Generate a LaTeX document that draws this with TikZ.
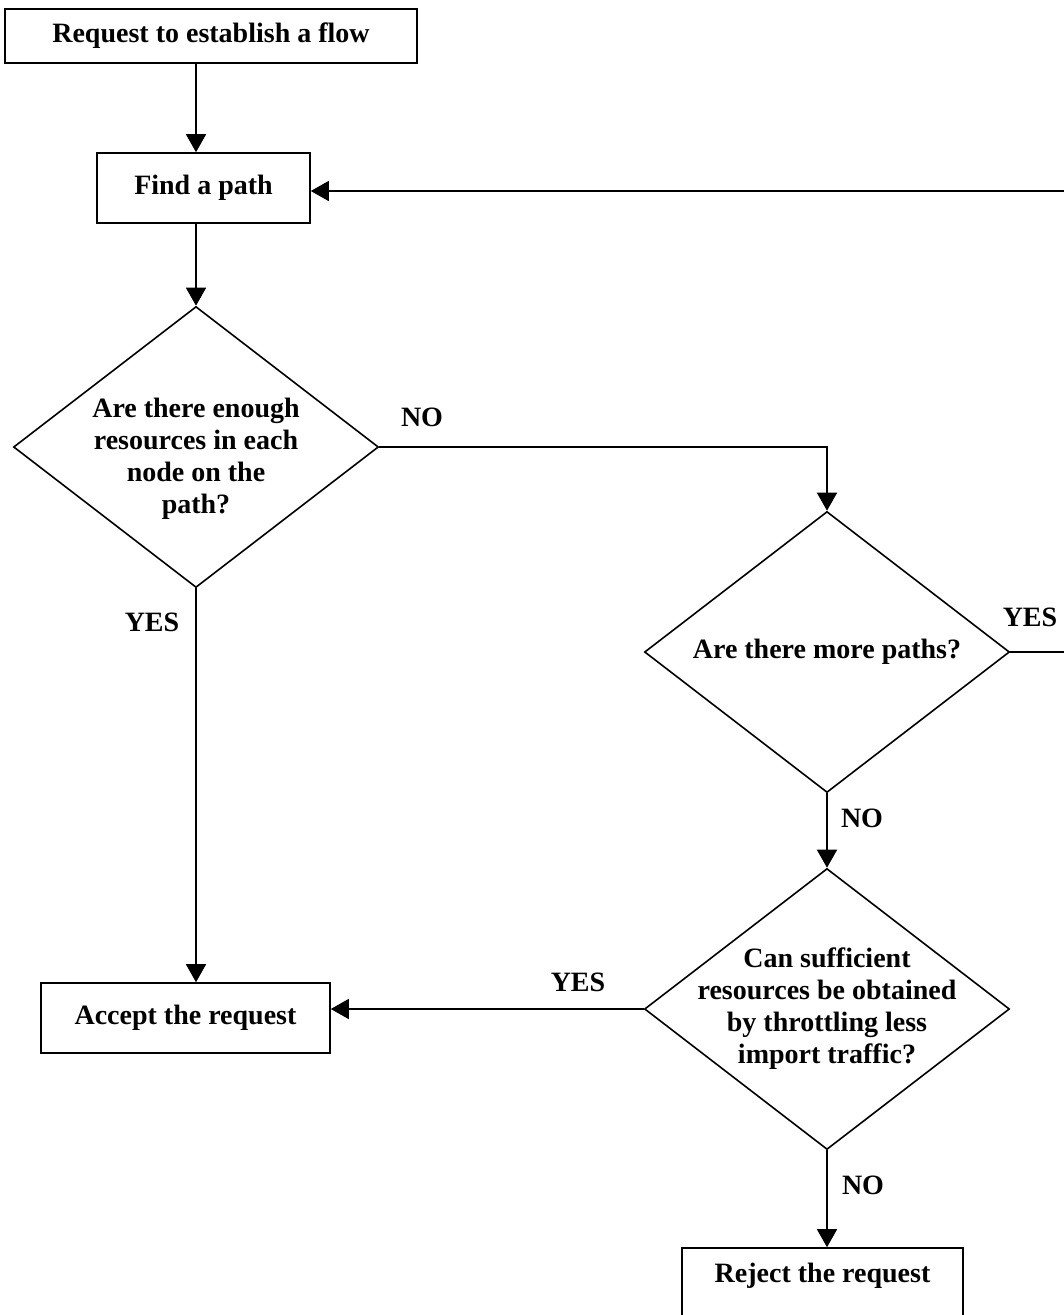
\documentclass[tikz,border=0pt]{standalone}
\usepackage{fontspec}
\setmainfont{Liberation Serif}
\usetikzlibrary{arrows.meta,shapes.geometric}
\begin{document}
\begin{tikzpicture}[x=1pt,y=-1pt,
  every node/.style={font=\fontsize{28}{32}\selectfont\bfseries},
  box/.style={draw,line width=1.6pt,rectangle,inner sep=0pt},
  dia/.style={draw,line width=1.6pt,diamond,inner sep=0pt,minimum width=365pt,minimum height=281pt},
  arr/.style={line width=1.6pt,-{Triangle[length=18pt,width=20pt]}},
  lbl/.style={inner sep=0pt}]
\useasboundingbox (0,0) rectangle (1064,1315);
\node[box,minimum width=412pt,minimum height=54pt] (b1) at (211,36) {Request to establish a flow};
\node[box,minimum width=213pt,minimum height=70pt] (b2) at (203.5,188) {Find a path};
\node[dia,label={[align=center,yshift=-12pt]center:Are there enough\\resources in each\\node on the\\path?}] (d1) at (196,447) {};
\node[dia,label={center:Are there more paths?}] (d2) at (827,652) {};
\node[dia,label={[align=center]center:Can sufficient\\resources be obtained\\by throttling less\\import traffic?}] (d3) at (827,1009) {};
\node[box,minimum width=289pt,minimum height=70pt] (b3) at (185.5,1018) {Accept the request};
\node[box,minimum width=281pt,minimum height=74pt] (b4) at (822.5,1285) {};
\node[lbl] (b4t) at (822.5,1276) {Reject the request};
\node[lbl] (l1) at (422,417) {NO};
\node[lbl] (l2) at (152,622) {YES};
\node[lbl] (l3) at (1030,617) {YES};
\node[lbl] (l4) at (862,818) {NO};
\node[lbl] (l5) at (578,982) {YES};
\node[lbl] (l6) at (863,1185) {NO};
\coordinate (far) at (1070,0);
\draw[arr] (b1.south -| d1.north) -- (b2.north -| d1.north);
\draw[arr] (b2.south -| d1.north) -- (d1.north);
\draw[arr] (d1.east) -- (d1.east -| d2.north) -- (d2.north);
\draw[arr] (d2.east) -- (d2.east -| far) |- ([yshift=-3pt]b2.east);
\draw[arr] (d2.south) -- (d3.north);
\draw[arr] (d1.south) -- (d1.south |- b3.north);
\draw[arr] (d3.west) -- (d3.west -| b3.east);
\draw[arr] (d3.south) -- (d3.south |- b4.north);
\end{tikzpicture}
\end{document}
